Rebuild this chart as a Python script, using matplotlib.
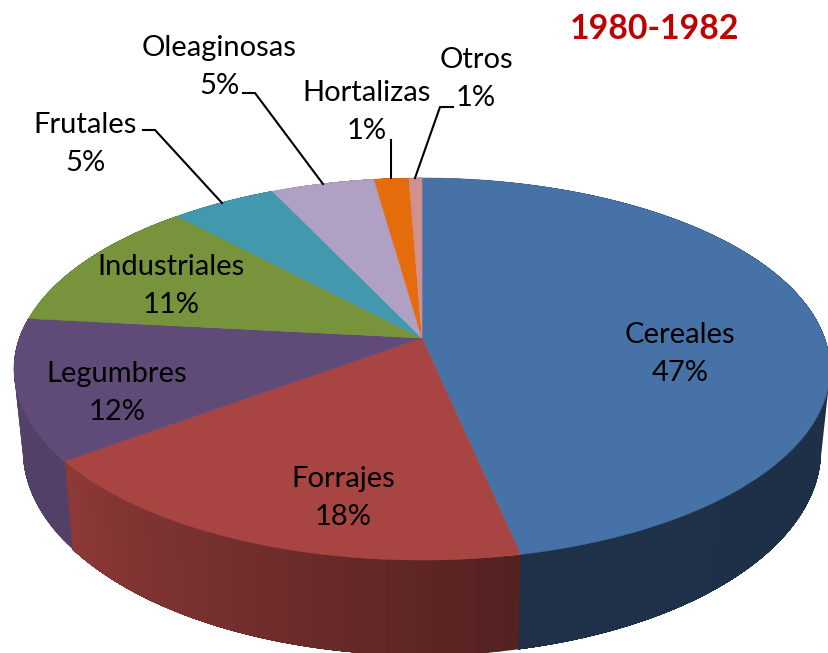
import numpy as np
import matplotlib
matplotlib.use("Agg")
import matplotlib.pyplot as plt

categories = ["Cereales", "Forrajes", "Legumbres", "Industriales", "Frutales", "Oleaginosas", "Hortalizas", "Otros"]
shares = [46.7, 18.1, 11.9, 11.4, 4.9, 4.8, 1.6, 0.6]
pct_labels = ["47%", "18%", "12%", "11%", "5%", "5%", "1%", "1%"]
colors = ["#4672A8", "#A84442", "#604A78", "#77933C", "#4198AF", "#B0A0C4", "#E46C0A", "#D09090"]
wall_start = [0.40, 0.50, 0.86, 0.8, 0.8, 0.8, 0.8, 0.8]
wall_end = [0.43, 0.84, 0.88, 0.8, 0.8, 0.8, 0.8, 0.8]
title = "1980-1982"

label_xy = [(680, 354), (343, 498), (117, 393), (171, 286), (85, 144), (219, 67), (367, 112), (476, 79)]
leaders = {
    "Frutales": [(143, 130), (155, 130), (222, 203)],
    "Oleaginosas": [(243, 93), (255, 93), (323, 184)],
    "Hortalizas": [(391, 140), (391, 178)],
    "Otros": [(453, 107), (440, 107), (415, 178)],
}

CX, CY, A, B, K = 422, 338, 402.6, 186.0, 0.1623


def top_rim(theta):
    u, v = np.sin(theta), np.cos(theta)
    w = 1 + K * v
    return CX + A * u / w, CY - B * v / w


def bottom_rim(theta):
    x, y = top_rim(theta)
    return CX + 0.978 * (x - CX), y + 78.8 + 0.0745 * (y - CY)


def shade(color, f):
    return tuple(c * f for c in matplotlib.colors.to_rgb(color))


fig = plt.figure(figsize=(8.29, 6.53), dpi=100)
ax = fig.add_axes([0, 0, 1, 1])
ax.set_xlim(0, 829)
ax.set_ylim(653, 0)
ax.axis("off")

edges = np.concatenate([[0], np.cumsum(shares)]) / np.sum(shares) * 2 * np.pi

# side wall: painted in overlapping bands, each reaching under the next, so no seams show
for i, col in enumerate(colors):
    n = 36
    ts = np.linspace(edges[i], edges[i + 1], n + 1)
    for j in range(n):
        t = np.linspace(ts[j], edges[i + 1], 60)
        x1, y1 = top_rim(t)
        x2, y2 = bottom_rim(t[::-1])
        c = shade(col, wall_start[i] + (wall_end[i] - wall_start[i]) * j / (n - 1))
        ax.fill(np.r_[x1, x2], np.r_[y1, y2], facecolor=c, edgecolor="none", lw=0, zorder=1)

# top face
for i, col in enumerate(colors):
    t = np.linspace(edges[i], edges[i + 1], 200)
    x, y = top_rim(t)
    ax.fill(np.r_[CX, x], np.r_[CY, y], color=col, lw=0.4, zorder=2)

for (x, y), name, pct in zip(label_xy, categories, pct_labels):
    ax.text(x, y, f"{name}\n{pct}", ha="center", va="center", fontsize=21,
            family="Lato", color="black", linespacing=1.6, zorder=4)

for pts in leaders.values():
    ax.plot(*zip(*pts), color="black", lw=1.5, solid_joinstyle="miter", zorder=3)

ax.text(654, 29, title, ha="center", va="center", fontsize=24.3, fontweight="bold",
        family="Lato", color="#C00000")

fig.savefig("out.png", dpi=100, facecolor="white")
